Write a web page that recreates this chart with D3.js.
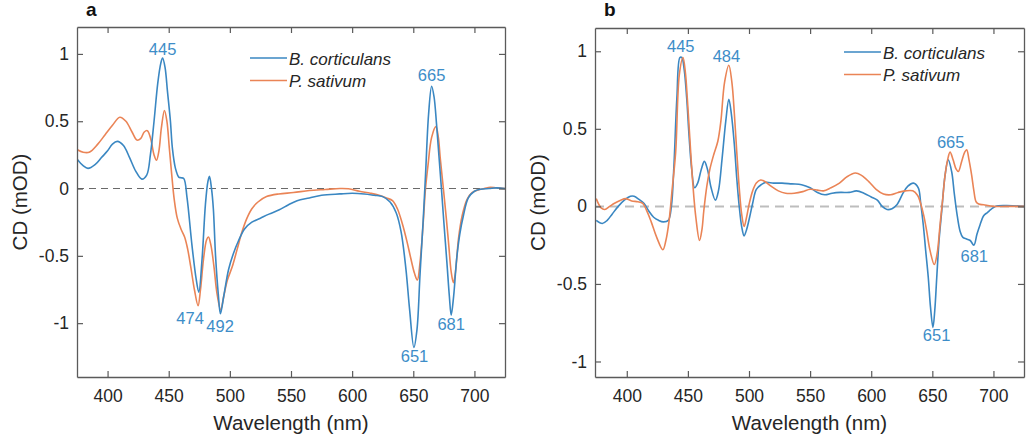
<!DOCTYPE html>
<html><head><meta charset="utf-8">
<script src="https://cdn.jsdelivr.net/npm/d3@7"></script>
<style>body{margin:0;background:#fff;}svg{display:block;}</style>
</head><body>
<svg id="chart" width="1029" height="436"></svg>
<script>
// ---------- DATA ----------
const seriesNames = ["B. corticulans", "P. sativum"];
const xTicks = [400, 450, 500, 550, 600, 650, 700];
const yTicks = [-1, -0.5, 0, 0.5, 1];

// Panel a
const wlA_blue = [375,380,384,390,395,400,404,408,413,418,423,428,432,435,438,441,443.5,445,447,449,451.4,453,455.5,458.2,460,462.3,465,469,472.4,474.6,477.3,480,482,483.3,485,486.5,488.3,490.5,492.3,495,499,503,507,512,518,525,532,540,548,555,565,575,590,600,610,618,625,631,636,640,644,647,650.5,653,655.5,658,660,662.5,665,667,669,671,673,675,677.5,679.5,681,683,685.5,688,691,695,700,705,712,718,725];
const cdA_blue = [0.22,0.17,0.15,0.18,0.23,0.28,0.33,0.35,0.32,0.23,0.13,0.07,0.10,0.25,0.50,0.78,0.93,0.97,0.90,0.72,0.50,0.30,0.15,0.085,0.08,0.075,-0.07,-0.42,-0.67,-0.77,-0.52,-0.12,0.05,0.09,0.0,-0.15,-0.50,-0.78,-0.93,-0.80,-0.60,-0.48,-0.39,-0.30,-0.25,-0.22,-0.19,-0.16,-0.12,-0.09,-0.07,-0.05,-0.04,-0.035,-0.04,-0.05,-0.06,-0.10,-0.18,-0.32,-0.60,-0.90,-1.18,-1.05,-0.64,-0.25,0.10,0.55,0.76,0.68,0.48,0.24,0.0,-0.25,-0.55,-0.80,-0.94,-0.80,-0.52,-0.34,-0.20,-0.07,-0.02,-0.005,0,0.005,0];

const wlA_orange = [375,380,385,392,398,404,410,415,420,424,427,430,432.5,435,438,440,442,444,446.5,448.5,450.5,452.5,454.5,457,460,463,465.5,468,471,474,476,478.5,481,482.5,484.5,487,489.5,492.5,495,498,502,506,510,514,518,523,530,540,552,565,578,590,597,606,615,622,628,633,637,641,645,648,651,653.3,655.5,658,660,662,665,668.5,670.5,672,674.6,677,679,681,682.8,684.5,687,690,694,698,703,708,713,718,725];
const cdA_orange = [0.29,0.27,0.27,0.33,0.40,0.47,0.53,0.50,0.42,0.36,0.37,0.42,0.43,0.38,0.25,0.21,0.28,0.45,0.58,0.50,0.30,0.10,-0.08,-0.22,-0.30,-0.36,-0.45,-0.58,-0.75,-0.87,-0.75,-0.52,-0.38,-0.36,-0.42,-0.58,-0.78,-0.90,-0.80,-0.68,-0.58,-0.45,-0.32,-0.22,-0.15,-0.10,-0.06,-0.04,-0.03,-0.015,-0.007,0.0,-0.002,-0.02,-0.035,-0.05,-0.07,-0.09,-0.15,-0.26,-0.40,-0.52,-0.63,-0.68,-0.55,-0.27,0.0,0.17,0.38,0.46,0.38,0.23,0.0,-0.22,-0.42,-0.62,-0.70,-0.62,-0.37,-0.20,-0.08,-0.03,-0.01,0.0,0.01,0.005,0];

// Panel b
const wlB_blue = [375,380,384,388,393,398,403,406,410,414,418,422,426,430,434,436.5,438.5,441,443.5,445,447,449,451,453,455.5,458,461,463.5,466,469,472.5,475,478,481,483.5,485.5,488,490,492,494,496,498,500.5,503,506,510,514,520,527,535,543,550,556,562,568,575,582,588,594,600,605,609,613,617,621,626,630,634.5,638.5,640.5,642.6,644.5,646.7,648.5,650.5,652,653.6,655.5,657.7,660.4,663,665.8,668,670,672.7,675,678,681,684,686.5,689,692,695,698,701.5,710,725];
const cdB_blue = [-0.09,-0.11,-0.09,-0.05,0.0,0.04,0.065,0.065,0.045,0.02,-0.03,-0.07,-0.09,-0.10,-0.09,0.0,0.25,0.70,0.96,0.96,0.88,0.70,0.45,0.25,0.12,0.15,0.24,0.29,0.24,0.12,0.04,0.10,0.31,0.55,0.69,0.60,0.40,0.18,0.0,-0.13,-0.19,-0.15,-0.07,0.02,0.11,0.14,0.155,0.15,0.15,0.145,0.14,0.12,0.09,0.075,0.085,0.09,0.09,0.10,0.085,0.06,0.04,0.0,-0.02,-0.015,0.01,0.085,0.13,0.15,0.12,0.02,-0.12,-0.28,-0.46,-0.65,-0.78,-0.67,-0.46,-0.22,-0.03,0.20,0.30,0.225,0.08,-0.04,-0.16,-0.20,-0.21,-0.22,-0.25,-0.18,-0.12,-0.06,-0.04,-0.02,0.0,0.005,0.0];

const wlB_orange = [375,379,382,386,390,395,399,404,409,413,417,420,424.5,429.5,432,434.5,437,440,443,446,448,449.5,451.5,453.5,455,456.5,459.5,461.5,463,465.5,468,471,474.5,477,480,483.5,486,488,490,492,494,496,498,500,503,506,509.5,513,518,524,530,537,544,550,556,561,567,574,580,587,592,598,604,610,616,622,628,634,638,640,643,645.4,648,651.6,654,656.3,658.5,660.4,662.5,664.5,667,669.5,671.3,674,676.5,678.1,680,682.2,684,685.8,688,692,700,710,725];
const cdB_orange = [0.05,-0.01,-0.02,0.0,0.02,0.04,0.05,0.035,0.03,0.02,-0.04,-0.10,-0.20,-0.28,-0.22,-0.10,0.10,0.35,0.85,0.96,0.86,0.70,0.45,0.20,0.05,-0.07,-0.22,-0.15,-0.03,0.13,0.24,0.33,0.42,0.55,0.80,0.91,0.80,0.60,0.35,0.12,-0.05,-0.13,-0.07,0.01,0.10,0.15,0.17,0.16,0.13,0.10,0.085,0.085,0.095,0.11,0.105,0.10,0.12,0.15,0.19,0.215,0.20,0.16,0.11,0.08,0.075,0.09,0.10,0.10,0.07,0.03,-0.06,-0.16,-0.28,-0.375,-0.30,-0.12,0.05,0.20,0.30,0.35,0.30,0.24,0.225,0.29,0.35,0.365,0.30,0.20,0.10,0.03,0.015,0.01,0.0,0.0,0.0];

// peak annotations: label text, wavelength, value anchor, vertical offset (px), horizontal nudge (px)
const peaksA_text = ["445","665","474","492","651","681"];
const peaksA_wl   = [445, 665, 474, 492, 651, 681];
const peaksA_val  = [0.97, 0.76, -0.87, -0.93, -1.18, -0.94];
const peaksA_dy   = [-3, -5, 18, 18, 15, 15];
const peaksA_dx   = [0, 0, -8, 0, 0, 0];

const peaksB_text = ["445","484","665","651","681"];
const peaksB_wl   = [445, 484, 665, 651, 681];
const peaksB_val  = [0.96, 0.91, 0.35, -0.78, -0.25];
const peaksB_dy   = [-5, -3, -4, 14, 17];
const peaksB_dx   = [-1, -3, 0, 3, 4];

// ---------- STYLE ----------
const FONT = "'Liberation Sans', Arial, Helvetica, sans-serif";
const BLUE = "#3a87c2";
const ORANGE = "#ea8456";
const LABEL_BLUE = "#3d8dc8";
const AXIS = "#5a5a5a";
const TXT = "#262626";

const svg = d3.select("#chart");

function panel(o) {
  const x = d3.scaleLinear().domain(o.xDomain).range([o.left, o.right]);
  const y = d3.scaleLinear().domain(o.yDomain).range([o.bottom, o.top]);
  const g = svg.append("g");

  const clipId = "clip" + o.name;
  svg.append("defs").append("clipPath").attr("id", clipId)
    .append("rect").attr("x", o.left).attr("y", o.top)
    .attr("width", o.right - o.left).attr("height", o.bottom - o.top);

  // zero dashed line
  g.append("line")
    .attr("x1", x(o.xDomain[0])).attr("x2", x(o.xDomain[1]))
    .attr("y1", y(0)).attr("y2", y(0))
    .attr("stroke", o.zeroColor).attr("stroke-width", o.zeroWidth)
    .attr("stroke-dasharray", o.zeroDash);

  const line = d3.line()
    .x(d => x(d[0])).y(d => y(d[1]))
    .curve(d3.curveCatmullRom.alpha(0.5));

  const dataOrange = o.wlO.map((w, i) => [w, o.cdO[i]]);
  const dataBlue = o.wlB.map((w, i) => [w, o.cdB[i]]);

  const plots = g.append("g").attr("clip-path", `url(#${clipId})`);
  if (o.blueOnTop) {
    plots.append("path").datum(dataOrange).attr("d", line).attr("fill", "none").attr("stroke", ORANGE).attr("stroke-width", 1.6);
    plots.append("path").datum(dataBlue).attr("d", line).attr("fill", "none").attr("stroke", BLUE).attr("stroke-width", 1.6);
  } else {
    plots.append("path").datum(dataBlue).attr("d", line).attr("fill", "none").attr("stroke", BLUE).attr("stroke-width", 1.6);
    plots.append("path").datum(dataOrange).attr("d", line).attr("fill", "none").attr("stroke", ORANGE).attr("stroke-width", 1.6);
  }

  const fmt = d => (d === 0 ? "0" : String(d).replace("\u2212", "-"));

  const ax = [
    g.append("g").attr("transform", `translate(0,${o.bottom})`)
      .call(d3.axisBottom(x).tickValues(xTicks).tickSizeInner(-6).tickSizeOuter(0).tickPadding(13).tickFormat(d3.format("d"))),
    g.append("g").attr("transform", `translate(0,${o.top})`)
      .call(d3.axisTop(x).tickValues(xTicks).tickSizeInner(-6).tickSizeOuter(0).tickFormat("")),
    g.append("g").attr("transform", `translate(${o.left},0)`)
      .call(d3.axisLeft(y).tickValues(yTicks).tickSizeInner(-6).tickSizeOuter(0).tickPadding(8).tickFormat(fmt)),
    g.append("g").attr("transform", `translate(${o.right},0)`)
      .call(d3.axisRight(y).tickValues(yTicks).tickSizeInner(-6).tickSizeOuter(0).tickFormat(""))
  ];
  ax.forEach(a => {
    a.selectAll(".domain").attr("stroke", AXIS).attr("stroke-width", 1.3);
    a.selectAll(".tick line").attr("stroke", AXIS).attr("stroke-width", 1.2);
    a.selectAll("text").attr("fill", TXT).attr("font-family", FONT).attr("font-size", 17.5);
  });

  // axis titles
  g.append("text")
    .attr("x", (o.left + o.right) / 2).attr("y", o.bottom + 53)
    .attr("text-anchor", "middle").attr("font-family", FONT).attr("font-size", 20.5).attr("fill", TXT)
    .text("Wavelength (nm)");
  g.append("text")
    .attr("transform", `translate(${o.left - 50},${(o.top + o.bottom) / 2}) rotate(-90)`)
    .attr("text-anchor", "middle").attr("font-family", FONT).attr("font-size", 20.5).attr("fill", TXT)
    .text("CD (mOD)");

  // panel letter
  g.append("text")
    .attr("x", o.left + 9).attr("y", 16)
    .attr("font-family", FONT).attr("font-weight", "bold").attr("font-size", 19).attr("fill", "#111")
    .text(o.name);

  // legend
  const lg = g.append("g").attr("transform", `translate(${o.legX},${o.legY})`);
  [BLUE, ORANGE].forEach((c, i) => {
    lg.append("line").attr("x1", 0).attr("x2", 37).attr("y1", i * 22.5).attr("y2", i * 22.5)
      .attr("stroke", c).attr("stroke-width", 1.6);
    lg.append("text").attr("x", 39).attr("y", i * 22.5 + 6.5)
      .attr("font-family", FONT).attr("font-style", "italic").attr("font-size", 17).attr("fill", TXT)
      .text(seriesNames[i]);
  });

  // peak labels
  o.pText.forEach((t, i) => {
    g.append("text")
      .attr("x", x(o.pWl[i]) + o.pDx[i]).attr("y", y(o.pVal[i]) + o.pDy[i])
      .attr("text-anchor", "middle").attr("font-family", FONT).attr("font-size", 16.5).attr("fill", LABEL_BLUE)
      .text(t);
  });
}

panel({
  name: "a", left: 77, right: 505, top: 27, bottom: 377,
  xDomain: [375, 725], yDomain: [-1.4, 1.2],
  wlB: wlA_blue, cdB: cdA_blue, wlO: wlA_orange, cdO: cdA_orange, blueOnTop: true,
  zeroColor: "#6a6a6a", zeroWidth: 1.1, zeroDash: "7,5",
  legX: 250, legY: 58,
  pText: peaksA_text, pWl: peaksA_wl, pVal: peaksA_val, pDy: peaksA_dy, pDx: peaksA_dx
});

panel({
  name: "b", left: 595, right: 1024, top: 28, bottom: 377,
  xDomain: [374, 725], yDomain: [-1.1, 1.15],
  wlB: wlB_blue, cdB: cdB_blue, wlO: wlB_orange, cdO: cdB_orange, blueOnTop: false,
  zeroColor: "#bdbdbd", zeroWidth: 2, zeroDash: "9,6",
  legX: 844, legY: 52,
  pText: peaksB_text, pWl: peaksB_wl, pVal: peaksB_val, pDy: peaksB_dy, pDx: peaksB_dx
});
</script>
</body></html>
